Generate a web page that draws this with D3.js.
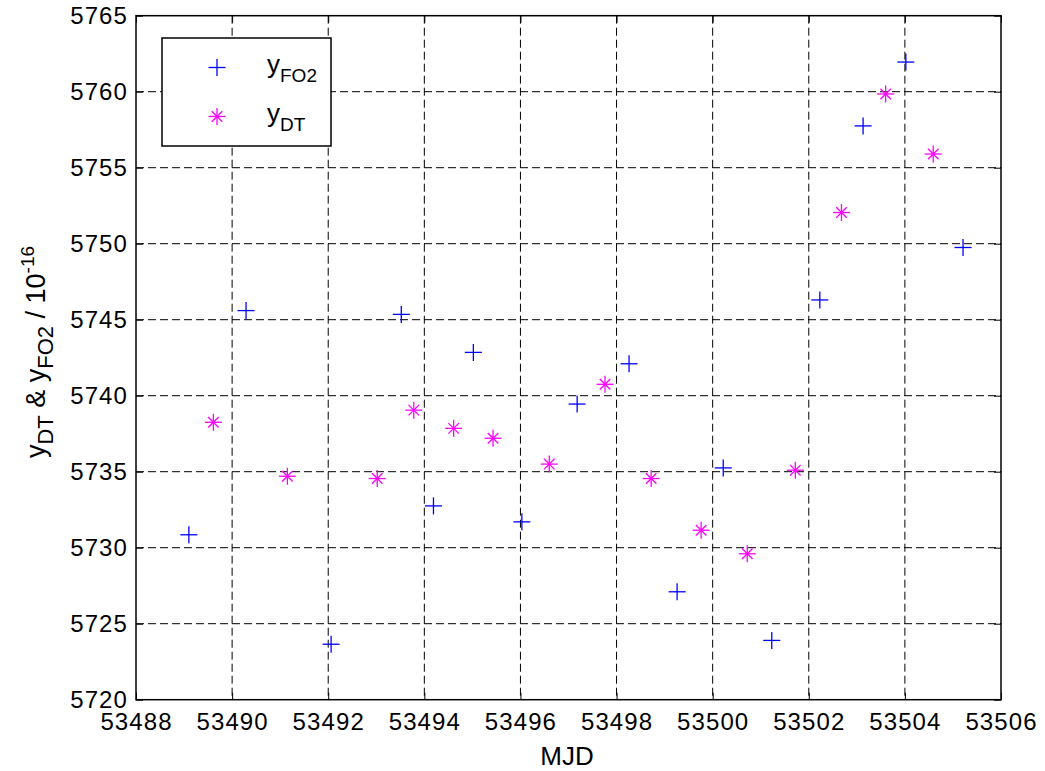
<!DOCTYPE html>
<html><head><meta charset="utf-8">
<script src="https://cdn.jsdelivr.net/npm/d3@7"></script>
<style>
html,body{margin:0;padding:0;background:#fff;}
svg text{font-family:"Liberation Sans",Arial,Helvetica,sans-serif;fill:#000;}
</style></head>
<body><svg id="c" width="1045" height="771"></svg>
<script>
const fo2X = [53489.10,53490.29,53492.06,53493.52,53494.19,53495.02,53496.03,53497.18,53498.26,53499.26,53500.22,53501.23,53502.23,53503.13,53504.02,53505.21];
const fo2Y = [5730.85,5745.6,5723.65,5745.35,5732.75,5742.85,5731.7,5739.45,5742.1,5727.1,5735.25,5723.9,5746.3,5757.75,5761.95,5749.75];
const dtX = [53489.61,53491.15,53493.02,53493.78,53494.61,53495.43,53496.60,53497.76,53498.72,53499.76,53500.72,53501.72,53502.68,53503.60,53504.59];
const dtY = [5738.25,5734.7,5734.55,5739.05,5737.85,5737.2,5735.5,5740.75,5734.55,5731.15,5729.6,5735.1,5752.05,5759.85,5755.9];
const xTicks = [53488,53490,53492,53494,53496,53498,53500,53502,53504,53506];
const yTicks = [5720,5725,5730,5735,5740,5745,5750,5755,5760,5765];

const svg = d3.select("#c");
const L=136, R=1001, T=15.7, B=699.7;
const x = d3.scaleLinear().domain([53488,53506]).range([L,R]);
const y = d3.scaleLinear().domain([5720,5765]).range([B,T]);
const FS = 24;

// grid
const g = svg.append("g");
g.selectAll(".vg").data(xTicks.slice(1,-1)).join("line")
  .attr("x1",d=>x(d)).attr("x2",d=>x(d)).attr("y1",T).attr("y2",B)
  .attr("stroke","#000").attr("stroke-width",1).attr("stroke-dasharray","8,4");
g.selectAll(".hg").data(yTicks.slice(1,-1)).join("line")
  .attr("y1",d=>y(d)).attr("y2",d=>y(d)).attr("x1",L).attr("x2",R)
  .attr("stroke","#000").attr("stroke-width",1).attr("stroke-dasharray","8,4");

// axes
const xa = svg.append("g").attr("transform",`translate(0,${B})`)
  .call(d3.axisBottom(x).tickValues(xTicks).tickFormat(d3.format("d")).tickSizeInner(-7).tickSizeOuter(0).tickPadding(13));
const xt = svg.append("g").attr("transform",`translate(0,${T})`)
  .call(d3.axisTop(x).tickValues(xTicks).tickSizeInner(-7).tickSizeOuter(0).tickFormat(""));
const ya = svg.append("g").attr("transform",`translate(${L},0)`)
  .call(d3.axisLeft(y).tickValues(yTicks).tickFormat(d3.format("d")).tickSizeInner(-7).tickSizeOuter(0).tickPadding(8));
const yr = svg.append("g").attr("transform",`translate(${R},0)`)
  .call(d3.axisRight(y).tickValues(yTicks).tickSizeInner(-7).tickSizeOuter(0).tickFormat(""));
[xa,xt,ya,yr].forEach(a=>{
  a.selectAll("text").attr("font-size",FS).attr("letter-spacing","1.1px")
   .attr("font-family",'"Liberation Sans",Arial,sans-serif').attr("fill","#000");
  a.selectAll("line").attr("stroke","#000");
  a.select(".domain").remove();
});
svg.append("rect").attr("x",L).attr("y",T).attr("width",R-L).attr("height",B-T)
  .attr("fill","none").attr("stroke","#000").attr("stroke-width",1.5);

// markers
const s = 8.5;
function plus(sel, cx, cy, col){
  sel.append("line").attr("x1",cx-s).attr("x2",cx+s).attr("y1",cy).attr("y2",cy).attr("stroke",col).attr("stroke-width",1.3);
  sel.append("line").attr("x1",cx).attr("x2",cx).attr("y1",cy-s).attr("y2",cy+s).attr("stroke",col).attr("stroke-width",1.3);
}
function star(sel, cx, cy, col){
  plus(sel,cx,cy,col);
  const d = s*0.62;
  sel.append("line").attr("x1",cx-d).attr("x2",cx+d).attr("y1",cy-d).attr("y2",cy+d).attr("stroke",col).attr("stroke-width",1.3);
  sel.append("line").attr("x1",cx-d).attr("x2",cx+d).attr("y1",cy+d).attr("y2",cy-d).attr("stroke",col).attr("stroke-width",1.3);
}
const mk = svg.append("g");
fo2X.forEach((v,i)=>plus(mk, x(v), y(fo2Y[i]), "#0000ff"));
dtX.forEach((v,i)=>star(mk, x(v), y(dtY[i]), "#ff00ff"));

// legend
const lg = svg.append("g");
lg.append("rect").attr("x",162).attr("y",38).attr("width",169).attr("height",108)
  .attr("fill","#fff").attr("stroke","#000").attr("stroke-width",1.5);
plus(lg, 217, 67.5, "#0000ff");
star(lg, 217, 116.5, "#ff00ff");
const t1 = lg.append("text").attr("x",267).attr("y",73).attr("font-size",26);
t1.append("tspan").text("y");
t1.append("tspan").attr("dy",9).attr("font-size",19).text("FO2");
const t2 = lg.append("text").attr("x",267).attr("y",122).attr("font-size",26);
t2.append("tspan").text("y");
t2.append("tspan").attr("dy",9).attr("font-size",19).text("DT");

// axis labels
svg.append("text").attr("x",567).attr("y",765).attr("text-anchor","middle").attr("font-size",26).text("MJD");
const yl = svg.append("text").attr("transform","translate(45,352) rotate(-90)").attr("text-anchor","middle").attr("font-size",27);
yl.append("tspan").text("y");
yl.append("tspan").attr("dy",8).attr("font-size",22).text("DT");
yl.append("tspan").attr("dy",-8).text(" & y");
yl.append("tspan").attr("dy",8).attr("font-size",22).text("FO2");
yl.append("tspan").attr("dy",-8).text(" / 10");
yl.append("tspan").attr("dy",-11).attr("font-size",19).text("-16");
</script></body></html>
